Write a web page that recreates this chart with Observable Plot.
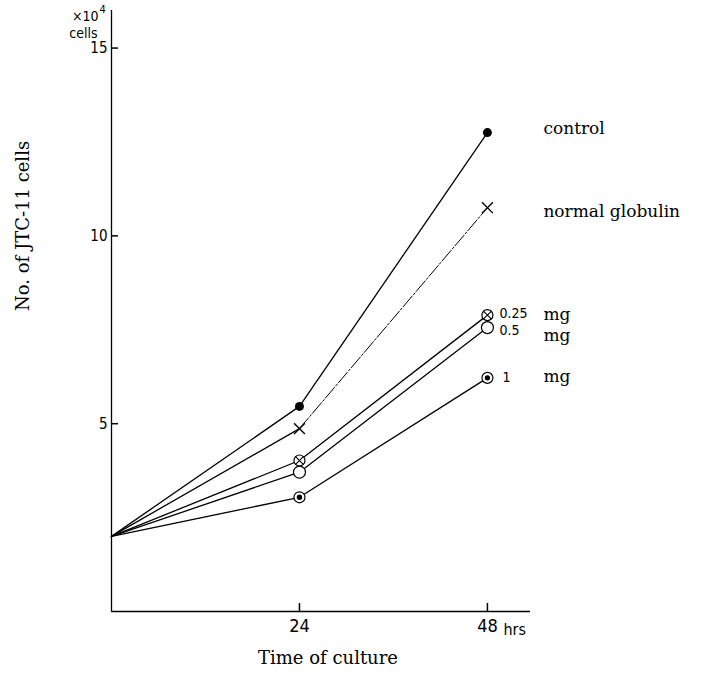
<!DOCTYPE html>
<html><head><meta charset="utf-8">
<script src="https://cdn.jsdelivr.net/npm/d3@7"></script>
<script src="https://cdn.jsdelivr.net/npm/@observablehq/plot@0.6"></script>
<style>html,body{margin:0;padding:0;background:#fff}</style>
</head><body><div id="chart"></div>
<script>
// ---- data ----
const hours = [0, 24, 48];
const controlValues = [2.0, 5.46, 12.75];
const globulinValues = [2.0, 4.87, 10.75];
const dose025Values = [2.0, 4.02, 7.89];
const dose05Values = [2.0, 3.71, 7.56];
const dose1Values = [2.0, 3.04, 6.22];
const seriesKeys = ["control", "globulin", "d025", "d05", "d1"];
const seriesNames = ["control", "normal globulin", "mg", "mg", "mg"];
const doseNames = ["", "", "0.25", "0.5", "1"];
const yTicks = [5, 10, 15];
const xTicks = [24, 48];

// ---- table ----
const valuesByKey = {control: controlValues, globulin: globulinValues, d025: dose025Values, d05: dose05Values, d1: dose1Values};
const rows = seriesKeys.flatMap(k => hours.map((h, i) => ({key: k, hour: h, value: valuesByKey[k][i]})));
const ends = seriesKeys.map((k, i) => ({key: k, hour: 48, value: valuesByKey[k][2], name: seriesNames[i], dose: doseNames[i]}));

// ---- layout / styles ----
const W = 704, H = 674, mL = 111, mR = 174, mT = 10, mB = 63;
const xDomain = [0, 53.5], yDomain = [0, 16];
const serif = "DejaVu Serif, Liberation Serif, serif";
const narrow = "Liberation Sans Narrow, DejaVu Sans Condensed, Arial Narrow, sans-serif";
const nameDy = {control: -4, globulin: 4, d025: -1, d05: 8, d1: -1};
const doseOffset = {d025: [12, -2], d05: [12, 3], d1: [15, 0]};
const pts = k => rows.filter(d => d.key === k && d.hour > 0);
const X = {x: "hour", y: "value"};

const marks = [
  Plot.ruleX([0], {stroke: "black", strokeWidth: 1.3}),
  Plot.ruleY([0], {stroke: "black", strokeWidth: 1.3}),
  // axes: ticks shifted so they point into the plot (dx / dy equal to tick length)
  Plot.axisY(yTicks, {anchor: "left", tickSize: 7, dx: 7, tickPadding: 4, fontSize: 15, fontFamily: narrow, label: null, strokeWidth: 1.5, stroke: "black"}),
  Plot.axisX(xTicks, {anchor: "bottom", tickSize: 8, dy: -8, tickPadding: 8, fontSize: 18, fontFamily: narrow, label: null, strokeWidth: 1.5, stroke: "black"}),
  Plot.text([48], {x: d => d, frameAnchor: "bottom", text: () => "hrs", dx: 16, dy: 12, textAnchor: "start", lineAnchor: "top", fontSize: 16, fontFamily: narrow, ariaLabel: "hrs"}),
  Plot.text(["×10"], {frameAnchor: "top-left", dx: -13, dy: 1, textAnchor: "end", fontSize: 14, fontFamily: narrow}),
  Plot.text(["4"], {frameAnchor: "top-left", dx: -12, dy: -5, textAnchor: "start", fontSize: 11, fontFamily: narrow}),
  Plot.text(["cells"], {frameAnchor: "top-left", dx: -14, dy: 18, textAnchor: "end", fontSize: 14, fontFamily: narrow}),
  Plot.text(["No. of JTC-11 cells"], {frameAnchor: "left", dx: -88, rotate: -90, fontSize: 18, fontFamily: serif, ariaLabel: "ylabel"}),
  Plot.text(["Time of culture"], {frameAnchor: "bottom", dx: 7, dy: 52, fontSize: 18, fontFamily: serif, ariaLabel: "xlabel"}),
  // lines
  Plot.line(rows.filter(d => d.key !== "globulin"), {...X, z: "key", stroke: "black", strokeWidth: 1.3}),
  Plot.line(rows.filter(d => d.key === "globulin" && d.hour <= 24), {...X, stroke: "black", strokeWidth: 1.3}),
  Plot.line(rows.filter(d => d.key === "globulin" && d.hour >= 24), {...X, stroke: "black", strokeWidth: 1, strokeDasharray: "14,2,2,2"}),
  // markers
  Plot.dot(pts("control"), {...X, r: 4.5, fill: "black"}),
  Plot.dot(pts("globulin"), {...X, symbol: "times", r: 5, stroke: "black", strokeWidth: 1.4}),
  Plot.dot(pts("d025"), {...X, r: 5.5, fill: "white", stroke: "black", strokeWidth: 1.2}),
  Plot.dot(pts("d025"), {...X, symbol: "times", r: 3.8, stroke: "black", strokeWidth: 1.1}),
  Plot.dot(pts("d05"), {...X, r: 6, fill: "white", stroke: "black", strokeWidth: 1.2}),
  Plot.dot(pts("d1"), {...X, r: 5.5, fill: "white", stroke: "black", strokeWidth: 1.2}),
  Plot.dot(pts("d1"), {...X, r: 2.7, fill: "black"}),
];
// end labels
for (const e of ends) {
  marks.push(Plot.text([e], {...X, text: "name", dx: 56, dy: nameDy[e.key], textAnchor: "start", fontSize: 17, fontFamily: serif, ariaLabel: "name-label"}));
  if (e.dose) {
    const [ddx, ddy] = doseOffset[e.key];
    marks.push(Plot.text([e], {...X, text: "dose", dx: ddx, dy: ddy, textAnchor: "start", fontSize: 14, fontFamily: narrow}));
  }
}

const chart = Plot.plot({
  width: W, height: H,
  marginLeft: mL, marginRight: mR, marginTop: mT, marginBottom: mB,
  x: {domain: xDomain},
  y: {domain: yDomain},
  style: {background: "white", color: "black"},
  marks
});
const svg = d3.select(chart);
svg.selectAll('g[aria-label="name-label"] text').attr("letter-spacing", 1);
svg.selectAll('g[aria-label="ylabel"] text').attr("letter-spacing", 1.2);
svg.selectAll('g[aria-label="xlabel"] text').attr("letter-spacing", 2);
svg.selectAll('g[aria-label="hrs"] text').attr("letter-spacing", 2);
document.getElementById("chart").appendChild(chart);
</script>
</body></html>
